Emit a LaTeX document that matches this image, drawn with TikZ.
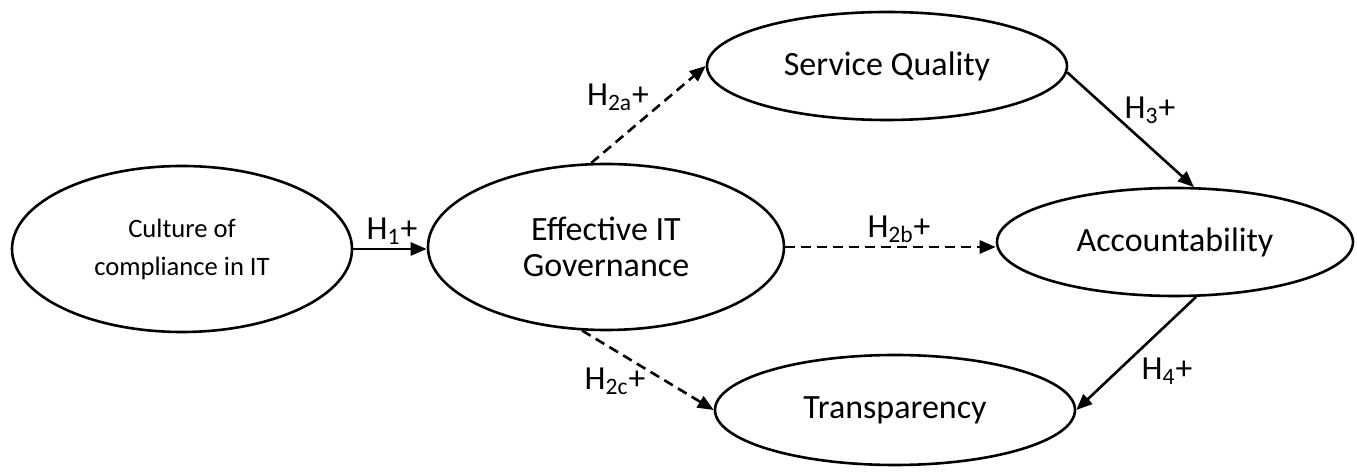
\documentclass[tikz,border=0pt]{standalone}
\usepackage{fontspec}
\setmainfont{Carlito}
\usetikzlibrary{shapes.geometric,arrows.meta}
\begin{document}
\begin{tikzpicture}[x=0.5pt,y=-0.5pt,
  construct/.style={draw,ellipse,line width=1.3pt,inner sep=0pt,align=center,font=\fontsize{17}{18}\selectfont},
  link/.style={line width=1.3pt,-{Triangle[length=8pt,width=6.5pt]}},
  weak/.style={link,dash pattern=on 5pt off 3pt},
  hyp/.style={font=\fontsize{16.8}{19}\selectfont,inner sep=1pt}]
\useasboundingbox (0,0) rectangle (1357,475);
\node[construct,minimum width=170pt,minimum height=83pt,font=\fontsize{13.3}{19}\selectfont] (cc) at (182,249) {Culture of\\compliance in IT};
\node[construct,minimum width=178pt,minimum height=83pt] (eg) at (606,247) {Effective IT\\Governance};
\node[construct,minimum width=180pt,minimum height=54pt] (sq) at (887,66) {Service Quality};
\node[construct,minimum width=178pt,minimum height=54pt] (ac) at (1175,242) {Accountability};
\node[construct,minimum width=180pt,minimum height=55pt] (tr) at (895,410) {Transparency};
\draw[link] (cc.east) -- (cc.east -| eg.west);
\draw[weak] (eg.100) -- (sq.west);
\draw[weak] (eg.east) -- (eg.east -| ac.west);
\draw[weak] (eg.254) -- (tr.west);
\draw[link] (sq.-2) -- (ac.71);
\draw[link] (ac.291) -- (tr.east);
\node[hyp] (h1) at (392,231) {H\textsubscript{1}+};
\node[hyp] (h2a) at (618,97) {H\textsubscript{2a}+};
\node[hyp] (h2b) at (899,229) {H\textsubscript{2b}+};
\node[hyp] (h2c) at (615,381) {H\textsubscript{2c}+};
\node[hyp] (h3) at (1150,110) {H\textsubscript{3}+};
\node[hyp] (h4) at (1167,371) {H\textsubscript{4}+};
\end{tikzpicture}
\end{document}
